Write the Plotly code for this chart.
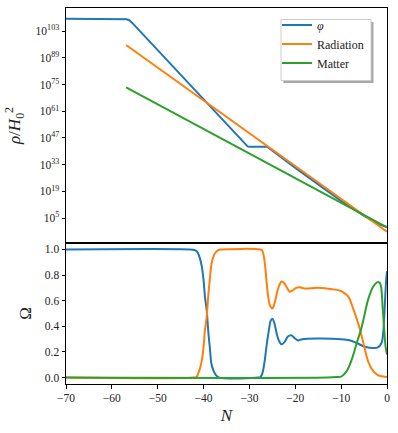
import plotly.graph_objects as go
from plotly.subplots import make_subplots

# top panel: energy densities (log10 of rho/H0^2)
phi_N = [-70, -57.5, -56.8, -56.2, -55.6, -30.4, -30.0, -26.2, -26.0, -20, -10, -5, -2, 0]
phi_log = [109.5, 109.5, 109.3, 108.8, 107.5, 42.6, 42.4, 42.4, 42.2, 31.3, 14.0, 6.1, 2.0, 0.3]
rad_N = [-56.9, 0]
rad_log = [95.8, -2.2]
mat_N = [-56.9, 0]
mat_log = [73.6, 0.1]

# bottom panel: density fractions Omega
om_phi_N = [-70, -43, -42, -41.5, -41.2, -40.8, -40.4, -40.0, -39.7, -39.3, -39.0, -38.6,
            -38.3, -37.9, -37.5, -37.1, -36.6, -28.0, -27.6, -27.3, -27.0, -26.6, -26.3,
            -25.8, -25.4, -25.0, -24.6, -24.1, -23.6, -23.0, -22.3, -21.6, -20.9, -20.2,
            -19.4, -18.5, -15, -10, -8, -6.6, -4.8, -3.0, -2.0, -1.2, -0.8, -0.5, -0.2, 0]
om_phi = [1.0, 1.0, 0.995, 0.985, 0.97, 0.93, 0.87, 0.76, 0.63, 0.52, 0.37, 0.22,
          0.11, 0.06, 0.03, 0.012, 0.0, 0.0, 0.005, 0.02, 0.06, 0.15, 0.24,
          0.36, 0.44, 0.46, 0.43, 0.35, 0.29, 0.26, 0.28, 0.32, 0.33, 0.31,
          0.29, 0.30, 0.305, 0.30, 0.29, 0.27, 0.24, 0.23, 0.235, 0.27, 0.36, 0.55, 0.75, 0.83]
om_rad_N = [-70, -42, -41.5, -41.2, -40.8, -40.4, -40.0, -39.7, -39.3, -39.0, -38.6, -38.3,
            -37.9, -37.5, -36.8, -36.0, -27.6, -27.3, -27.0, -26.6, -26.3, -25.9, -25.5,
            -25.0, -24.6, -24.0, -23.5, -23.0, -22.5, -21.8, -21.2, -20.6, -19.8, -19.0,
            -18, -15, -12, -10, -9, -8.4, -7.3, -6.25, -5.15, -4.1, -3.0, -2.0, -1.5, -0.8, 0]
om_rad = [0.0, 0.0, 0.005, 0.03, 0.07, 0.13, 0.24, 0.37, 0.48, 0.63, 0.78, 0.88,
          0.94, 0.97, 0.995, 1.0, 1.0, 0.995, 0.97, 0.88, 0.76, 0.63, 0.56,
          0.54, 0.57, 0.66, 0.72, 0.75, 0.74, 0.70, 0.67, 0.68, 0.70, 0.705,
          0.695, 0.70, 0.69, 0.675, 0.65, 0.63, 0.53, 0.42, 0.27, 0.125, 0.05, 0.02, 0.013, 0.008, 0.005]
om_mat_N = [-70, -13, -11, -9.9, -8.8, -7.7, -6.6, -5.7, -5.15, -4.1, -3.0, -2.05, -1.6,
            -1.3, -0.95, -0.6, -0.3, 0]
om_mat = [0.0, 0.0, 0.004, 0.01, 0.05, 0.14, 0.27, 0.37, 0.45, 0.61, 0.71, 0.745, 0.74,
          0.71, 0.55, 0.37, 0.24, 0.18]

rho_ticks = [5, 19, 33, 47, 61, 75, 89, 103]
N_ticks = [-70, -60, -50, -40, -30, -20, -10, 0]

blue, orange, green = "#1f77b4", "#ff7f0e", "#2ca02c"
font = "Liberation Serif"


def px_x(p):
    return (p - 66) / 321


def px_y(p):
    return (384 - p) / 376


fig = make_subplots(rows=2, cols=1, shared_xaxes=True, vertical_spacing=0,
                    row_heights=[0.625, 0.375])

fig.add_trace(go.Scatter(x=phi_N, y=[10 ** v for v in phi_log], name="<i>φ</i>",
                         line=dict(color=blue, width=2), mode="lines"), row=1, col=1)
fig.add_trace(go.Scatter(x=rad_N, y=[10 ** v for v in rad_log], name="Radiation",
                         line=dict(color=orange, width=2), mode="lines"), row=1, col=1)
fig.add_trace(go.Scatter(x=mat_N, y=[10 ** v for v in mat_log], name="Matter",
                         line=dict(color=green, width=2), mode="lines"), row=1, col=1)

fig.add_trace(go.Scatter(x=om_phi_N, y=om_phi, line=dict(color=blue, width=2),
                         mode="lines", showlegend=False, line_shape="spline"), row=2, col=1)
fig.add_trace(go.Scatter(x=om_rad_N, y=om_rad, line=dict(color=orange, width=2),
                         mode="lines", showlegend=False, line_shape="spline"), row=2, col=1)
fig.add_trace(go.Scatter(x=om_mat_N, y=om_mat, line=dict(color=green, width=2),
                         mode="lines", showlegend=False, line_shape="spline"), row=2, col=1)

axis_style = dict(showline=True, linecolor="black", linewidth=1, mirror=True,
                  showgrid=False, zeroline=False, ticks="outside", ticklen=3.5,
                  tickcolor="black", tickfont=dict(family=font, size=11.5, color="#222"))

fig.update_xaxes(range=[-70, 0], **axis_style)
fig.update_xaxes(ticks="", showticklabels=False, row=1, col=1)
fig.update_xaxes(tickvals=N_ticks, row=2, col=1,
                 title=dict(text="<i>N</i>", font=dict(family=font, size=17, color="#222"),
                            standoff=5))
fig.update_yaxes(**axis_style)
fig.update_yaxes(type="log", range=[-8.1, 115.2], row=1, col=1,
                 tickvals=[10.0 ** t for t in rho_ticks],
                 ticktext=["10<sup>%d</sup>" % t for t in rho_ticks],
                 title=dict(text="<i>ρ</i>/<i>H</i><sub>0</sub><sup>2</sup>",
                            font=dict(family=font, size=17, color="#222"), standoff=10))
fig.update_yaxes(range=[-0.05, 1.05], tickvals=[0, 0.2, 0.4, 0.6, 0.8, 1.0],
                 tickformat=".1f", row=2, col=1,
                 title=dict(text="Ω", font=dict(family=font, size=17, color="#222"),
                            standoff=8))

# legend frame with drop shadow (the plotly legend itself is drawn transparent on top)
fig.add_shape(type="rect", xref="paper", yref="paper",
              x0=px_x(283.5), x1=px_x(373.5), y0=px_y(83), y1=px_y(22),
              fillcolor="#a8a8a8", line=dict(width=0), layer="above")
fig.add_shape(type="rect", xref="paper", yref="paper",
              x0=px_x(281), x1=px_x(371), y0=px_y(80.5), y1=px_y(19.5),
              fillcolor="white", line=dict(color="#cccccc", width=1), layer="above")

fig.update_layout(
    width=398, height=433,
    margin=dict(l=66, r=11, t=8, b=49),
    plot_bgcolor="white", paper_bgcolor="white",
    font=dict(family=font, color="#222"),
    legend=dict(x=px_x(277), y=px_y(10.5), xanchor="left", yanchor="top",
                bgcolor="rgba(0,0,0,0)", borderwidth=0,
                font=dict(family=font, size=12, color="#222"),
                itemwidth=30, tracegroupgap=0),
)

fig.write_html("out.html", config={"displayModeBar": False},
               post_script="document.body.style.margin = '0';")
